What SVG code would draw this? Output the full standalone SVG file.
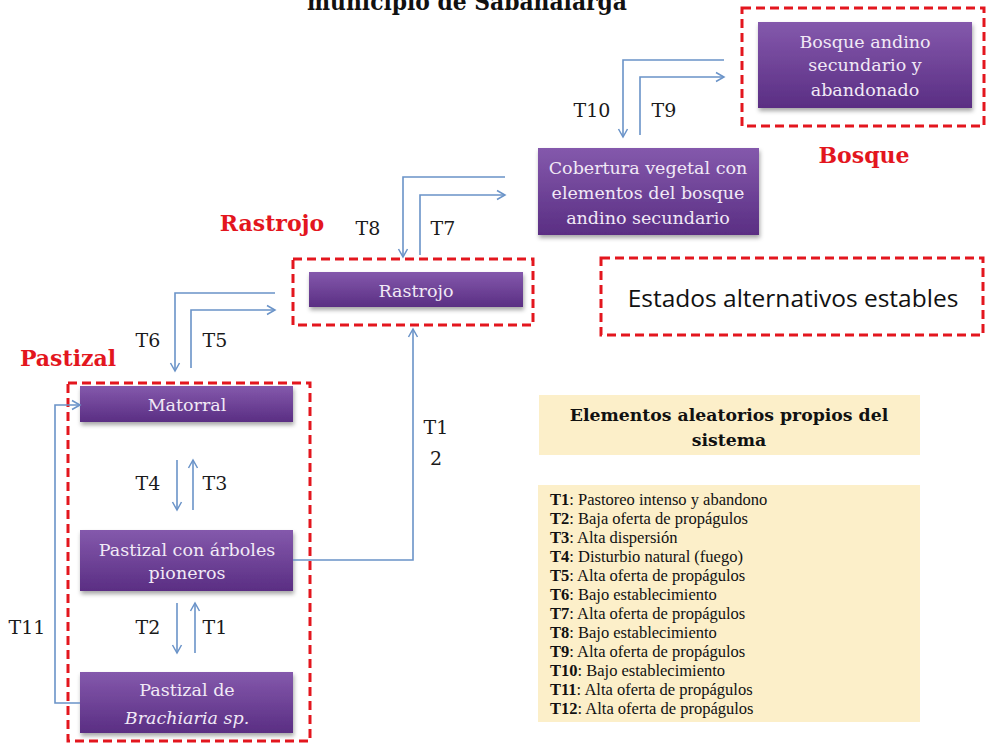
<svg xmlns="http://www.w3.org/2000/svg" width="986" height="743" viewBox="0 0 986 743">
<defs>
<linearGradient id="pg" x1="0" y1="0" x2="0" y2="1">
<stop offset="0" stop-color="#8459AC"/>
<stop offset="1" stop-color="#5A2E83"/>
</linearGradient>
<filter id="sh" x="-10%" y="-20%" width="120%" height="150%">
<feDropShadow dx="1" dy="3" stdDeviation="2" flood-color="#000" flood-opacity="0.35"/>
</filter>
<marker id="ah" markerUnits="userSpaceOnUse" markerWidth="12" markerHeight="12" refX="10" refY="6" orient="auto">
<path d="M2,1.5 L10,6 L2,10.5" fill="none" stroke="#6A93C8" stroke-width="1.5"/>
</marker>
<style>
.node{fill:url(#pg);filter:url(#sh)}
.nt{font-family:"DejaVu Serif",serif;font-size:17.5px;fill:#F1E9F6;text-anchor:middle}
.dash{fill:none;stroke:#E3161E;stroke-width:3;stroke-dasharray:9 5}
.red{font-family:"DejaVu Serif",serif;font-weight:bold;font-size:22px;fill:#E3161E;text-anchor:middle}
.tl{font-family:"DejaVu Serif",serif;font-size:19px;fill:#1a1a1a;text-anchor:middle}
.con path{fill:none;stroke:#6A93C8;stroke-width:1.6}
.beige{fill:#FCEFC9}
.lg{font-family:"Liberation Serif",serif;font-size:16.5px;fill:#111}
.lg tspan.b{font-weight:bold}
</style>
</defs>
<rect width="986" height="743" fill="#fff"/>
<text x="467" y="10" font-family="DejaVu Serif,serif" font-weight="bold" font-size="24" text-anchor="middle" fill="#111" textLength="320" lengthAdjust="spacingAndGlyphs">municipio de Sabanalarga</text>

<g id="bosque-group">
<rect class="dash" x="742" y="8" width="242" height="118"/>
<text class="red" x="864" y="163">Bosque</text>
</g>
<g id="bosque-andino">
<rect class="node" x="758" y="22" width="214" height="86"/>
<text class="nt" x="865" y="48">Bosque andino</text>
<text class="nt" x="865" y="71">secundario y</text>
<text class="nt" x="865" y="96">abandonado</text>
</g>
<g id="cobertura">
<rect class="node" x="538" y="148" width="221" height="87"/>
<text class="nt" x="648" y="174">Cobertura vegetal con</text>
<text class="nt" x="648" y="199">elementos del bosque</text>
<text class="nt" x="648" y="224">andino secundario</text>
</g>
<g id="rastrojo-group">
<rect class="dash" x="293" y="259" width="240" height="66"/>
<text class="red" x="272" y="231">Rastrojo</text>
</g>
<g id="rastrojo">
<rect class="node" x="309" y="272" width="214" height="35"/>
<text class="nt" x="416" y="297">Rastrojo</text>
</g>
<g id="estados">
<rect class="dash" x="601" y="258" width="382" height="77"/>
<text x="793" y="307" font-family="Open Sans,sans-serif" font-size="24.5" text-anchor="middle" fill="#111">Estados alternativos estables</text>
</g>
<g id="pastizal-group">
<rect class="dash" x="68" y="383" width="242" height="358"/>
<text class="red" x="68" y="366">Pastizal</text>
</g>
<g id="matorral">
<rect class="node" x="80" y="386" width="213" height="36"/>
<text class="nt" x="187" y="411">Matorral</text>
</g>
<g id="pastizal-arboles">
<rect class="node" x="80" y="530" width="213" height="61"/>
<text class="nt" x="187" y="556">Pastizal con árboles</text>
<text class="nt" x="187" y="579">pioneros</text>
</g>
<g id="pastizal-brachiaria">
<rect class="node" x="80" y="672" width="213" height="61"/>
<text class="nt" x="187" y="696">Pastizal de</text>
<text class="nt" x="187" y="724" font-style="italic">Brachiaria sp.</text>
</g>

<g id="connectors" class="con">
<path d="M724,60 H623 V137" marker-end="url(#ah)"/>
<path d="M640,135 V77 H724" marker-end="url(#ah)"/>
<path d="M505,177 H403 V257" marker-end="url(#ah)"/>
<path d="M420,255 V195 H505" marker-end="url(#ah)"/>
<path d="M275,293 H175 V371" marker-end="url(#ah)"/>
<path d="M191,368 V310 H275" marker-end="url(#ah)"/>
<path d="M177,460 V510" marker-end="url(#ah)"/>
<path d="M193,510 V460" marker-end="url(#ah)"/>
<path d="M177,603 V653" marker-end="url(#ah)"/>
<path d="M195,653 V603" marker-end="url(#ah)"/>
<path d="M80,703 H55 V405 H80" marker-end="url(#ah)"/>
<path d="M293,560 H413 V329" marker-end="url(#ah)"/>
</g>
<g id="transition-labels">
<text class="tl" x="592" y="117">T10</text>
<text class="tl" x="664" y="117">T9</text>
<text class="tl" x="368" y="235">T8</text>
<text class="tl" x="443" y="235">T7</text>
<text class="tl" x="148" y="347">T6</text>
<text class="tl" x="215" y="347">T5</text>
<text class="tl" x="148" y="490">T4</text>
<text class="tl" x="215" y="490">T3</text>
<text class="tl" x="148" y="634">T2</text>
<text class="tl" x="215" y="634">T1</text>
<text class="tl" x="27" y="634">T11</text>
<text class="tl" x="436" y="434" text-anchor="start">T1</text>
<text class="tl" x="436" y="465" text-anchor="start">2</text>
</g>

<g id="elementos-title">
<rect class="beige" x="539" y="395" width="381" height="60"/>
<text x="729" y="421" font-family="DejaVu Serif,serif" font-weight="bold" font-size="17.3" text-anchor="middle" fill="#111">Elementos aleatorios propios del</text>
<text x="729" y="446" font-family="DejaVu Serif,serif" font-weight="bold" font-size="17.3" text-anchor="middle" fill="#111">sistema</text>
</g>
<g id="legend">
<rect class="beige" x="538" y="485" width="382" height="237"/>
<text class="lg" x="550" y="505"><tspan class="b">T1</tspan>: Pastoreo intenso y abandono</text>
<text class="lg" x="550" y="524"><tspan class="b">T2</tspan>:  Baja oferta de propágulos</text>
<text class="lg" x="550" y="543"><tspan class="b">T3</tspan>:  Alta dispersión</text>
<text class="lg" x="550" y="562"><tspan class="b">T4</tspan>: Disturbio natural (fuego)</text>
<text class="lg" x="550" y="581"><tspan class="b">T5</tspan>: Alta oferta de propágulos</text>
<text class="lg" x="550" y="600"><tspan class="b">T6</tspan>: Bajo establecimiento</text>
<text class="lg" x="550" y="619"><tspan class="b">T7</tspan>: Alta oferta de propágulos</text>
<text class="lg" x="550" y="638"><tspan class="b">T8</tspan>: Bajo establecimiento</text>
<text class="lg" x="550" y="657"><tspan class="b">T9</tspan>: Alta oferta de propágulos</text>
<text class="lg" x="550" y="676"><tspan class="b">T10</tspan>: Bajo establecimiento</text>
<text class="lg" x="550" y="695"><tspan class="b">T11</tspan>: Alta oferta de propágulos</text>
<text class="lg" x="550" y="714"><tspan class="b">T12</tspan>: Alta oferta de propágulos</text>
</g>
</svg>
